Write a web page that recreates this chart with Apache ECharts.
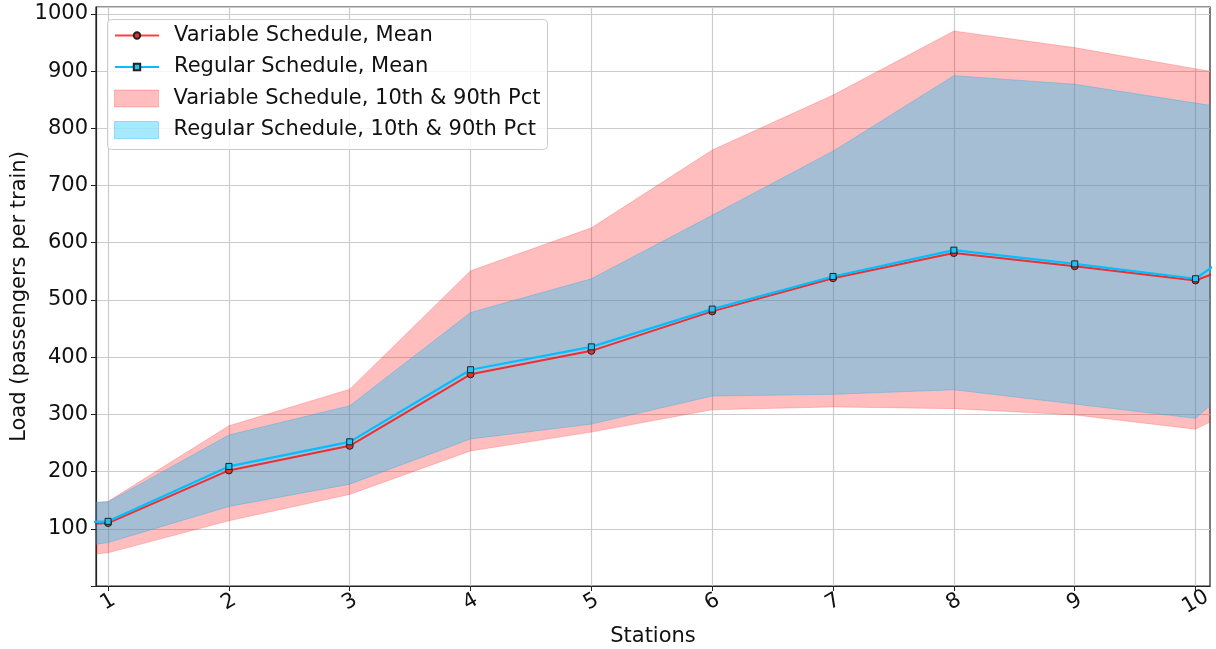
<!DOCTYPE html>
<html>
<head>
<meta charset="utf-8">
<script src="https://cdn.jsdelivr.net/npm/echarts@6/dist/echarts.min.js"></script>
<style>html,body{margin:0;padding:0;background:#fff}#c{width:1216px;height:649px}</style>
</head>
<body>
<div id="c"></div>
<script>
// Stations (0 and 11 lie just outside the visible x-range)
const stations = [0, 1, 2, 3, 4, 5, 6, 7, 8, 9, 10, 11];
const xTicks = [1, 2, 3, 4, 5, 6, 7, 8, 9, 10];
const yTicks = [100, 200, 300, 400, 500, 600, 700, 800, 900, 1000];

const variableMean = [100, 110, 202, 245, 370, 411, 480, 538, 582, 559, 534, 614];
const regularMean  = [105, 113, 209, 252, 378, 418, 484, 541, 587, 563, 537, 686];
const variableP90  = [120, 148, 280, 344, 551, 626, 762, 858, 970, 941, 904, 869];
const variableP10  = [38, 58, 114, 160, 236, 269, 308, 313, 310, 299, 274, 379];
const regularP90   = [145, 147, 264, 315, 478, 537, 648, 760, 892, 877, 844, 812];
const regularP10   = [46, 76, 139, 178, 257, 283, 332, 335, 343, 318, 293, 478];

const FONT = 'DejaVu Sans';
const FS = 21;
const TXT = '#111111';
const pairs = (ys) => stations.map((x, i) => [x, ys[i]]);

function band(upper, lower, fill, stroke) {
  return function (params, api) {
    const pts = [];
    for (let i = 0; i < stations.length; i++) pts.push(api.coord([stations[i], upper[i]]));
    for (let i = stations.length - 1; i >= 0; i--) pts.push(api.coord([stations[i], lower[i]]));
    return { type: 'polygon', shape: { points: pts }, style: { fill: fill, stroke: stroke, lineWidth: 1 } };
  };
}

const chart = echarts.init(document.getElementById('c'), null, { renderer: 'canvas' });
chart.setOption({
  animation: false,
  backgroundColor: '#ffffff',
  textStyle: { fontFamily: FONT },
  grid: { left: 96, top: 7, right: 6, bottom: 63, containLabel: false, outerBoundsMode: 'none', show: true, borderColor: '#222', borderWidth: 1.2, backgroundColor: 'transparent' },
  graphic: [{
    type: 'rect', z: 50, left: 107, top: 19,
    shape: { width: 440, height: 130, r: 4 },
    style: { fill: 'rgba(255,255,255,0.8)', stroke: '#cccccc', lineWidth: 1 }
  }],
  legend: [
    {
      z: 60, orient: 'vertical', left: 114, top: 25, padding: 0,
      itemWidth: 44, itemHeight: 8, itemGap: 10.5,
      textStyle: { fontFamily: FONT, fontSize: FS, color: TXT, padding: [0, 0, 0, 10] },
      data: ['Variable Schedule, Mean', 'Regular Schedule, Mean']
    },
    {
      z: 60, orient: 'vertical', left: 114, top: 88, padding: 0,
      itemWidth: 44, itemHeight: 17, itemGap: 10.5,
      textStyle: { fontFamily: FONT, fontSize: FS, color: TXT, padding: [0, 0, 0, 10] },
      data: [
        { name: 'Variable Schedule, 10th & 90th Pct', icon: 'rect', itemStyle: { color: 'rgba(255,0,0,0.26)', borderColor: 'rgba(255,60,60,0.3)', borderWidth: 1 } },
        { name: 'Regular Schedule, 10th & 90th Pct', icon: 'rect', itemStyle: { color: 'rgba(0,191,255,0.35)', borderColor: 'rgba(0,160,230,0.3)', borderWidth: 1 } }
      ]
    }
  ],
  xAxis: {
    type: 'value', min: 0.9, max: 10.12,
    name: 'Stations', nameLocation: 'middle', nameGap: 40, nameMoveOverlap: false,
    nameTextStyle: { fontFamily: FONT, fontSize: FS, color: TXT },
    axisLine: { show: true, onZero: false, lineStyle: { color: '#222', width: 1.2 } },
    axisTick: { show: true, length: 5, customValues: xTicks, lineStyle: { color: '#222' } },
    axisLabel: { customValues: xTicks, rotate: 30, align: 'center', verticalAlign: 'middle', margin: 16, fontFamily: FONT, fontSize: FS, color: TXT },
    splitLine: { show: true, lineStyle: { color: '#cccccc', width: 1.2 } }
  },
  yAxis: {
    type: 'value', min: 0, max: 1012, interval: 100,
    name: 'Load (passengers per train)', nameLocation: 'middle', nameGap: 66, nameMoveOverlap: false,
    nameTextStyle: { fontFamily: FONT, fontSize: FS, color: TXT },
    axisLine: { show: true, lineStyle: { color: '#222', width: 1.2 } },
    axisTick: { show: true, length: 5, lineStyle: { color: '#222' } },
    axisLabel: {
      margin: 8, fontFamily: FONT, fontSize: FS, color: TXT, showMaxLabel: false,
      formatter: (v) => (yTicks.indexOf(v) >= 0 ? String(v) : '')
    },
    splitLine: { show: true, lineStyle: { color: '#cccccc', width: 1.2 } }
  },
  series: [
    {
      name: 'Variable Schedule, 10th & 90th Pct', type: 'custom', clip: true, z: 1,
      data: [[1, variableMean[1]]], encode: { x: 0, y: 1 },
      itemStyle: { color: 'rgba(255,0,0,0.26)' },
      renderItem: band(variableP90, variableP10, 'rgba(255,0,0,0.26)', 'rgba(255,60,60,0.25)')
    },
    {
      name: 'Regular Schedule, 10th & 90th Pct', type: 'custom', clip: true, z: 2,
      data: [[1, regularMean[1]]], encode: { x: 0, y: 1 },
      itemStyle: { color: 'rgba(0,191,255,0.35)' },
      renderItem: band(regularP90, regularP10, 'rgba(0,191,255,0.35)', 'rgba(0,170,240,0.3)')
    },
    {
      name: 'Variable Schedule, Mean', type: 'line', z: 3, clip: true,
      data: pairs(variableMean),
      symbol: 'circle', symbolSize: 7, showAllSymbol: true,
      lineStyle: { color: 'rgba(255,0,0,0.75)', width: 2 },
      itemStyle: { color: '#e8302a', borderColor: '#222', borderWidth: 1 }
    },
    {
      name: 'Regular Schedule, Mean', type: 'line', z: 4, clip: true,
      data: pairs(regularMean),
      symbol: 'rect', symbolSize: 6, showAllSymbol: true,
      lineStyle: { color: '#00bfff', width: 2.2 },
      itemStyle: { color: '#1ec3f5', borderColor: '#222', borderWidth: 1 }
    }
  ]
});
</script>
</body>
</html>
